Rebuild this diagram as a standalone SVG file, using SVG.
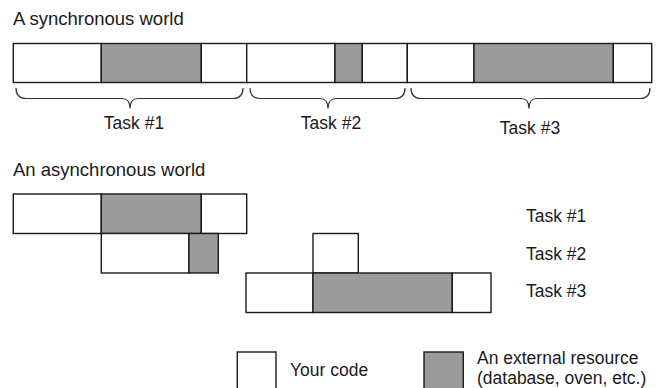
<svg xmlns="http://www.w3.org/2000/svg" width="659" height="388" viewBox="0 0 659 388">
<style>
.c{fill:#ffffff;stroke:#1a1a1a;stroke-width:1.4}
.r{fill:#9b9b9b;stroke:#1a1a1a;stroke-width:1.4}
.b{fill:none;stroke:#333333;stroke-width:1.2}
text{font-family:"Liberation Sans",Arial,sans-serif;fill:#1a1a1a}
.t{font-size:18.5px}
.l{font-size:17.5px}
.m{text-anchor:middle}
</style>
<rect width="659" height="388" fill="#ffffff"/>
<text class="t" x="13" y="25">A synchronous world</text>
<g id="sync-task1">
<rect class="c" x="13.3" y="43.5" width="88" height="39"/>
<rect class="r" x="101.3" y="43.5" width="100" height="39"/>
<rect class="c" x="201.3" y="43.5" width="45.4" height="39"/>
</g>
<g id="sync-task2">
<rect class="c" x="246.7" y="43.5" width="88.3" height="39"/>
<rect class="r" x="335" y="43.5" width="27.3" height="39"/>
<rect class="c" x="362.3" y="43.5" width="45" height="39"/>
</g>
<g id="sync-task3">
<rect class="c" x="407.3" y="43.5" width="66.7" height="39"/>
<rect class="r" x="474" y="43.5" width="139.3" height="39"/>
<rect class="c" x="613.3" y="43.5" width="38.4" height="39"/>
</g>
<g id="braces">
<path class="b" d="M16,88 q0,10.5 10,10.5 H122 q8,0 8,10 q0,-10 8,-10 H233 q10,0 10,-10.5"/>
<path class="b" d="M250,88 q0,10.5 10,10.5 H320 q8,0 8,10 q0,-10 8,-10 H395 q10,0 10,-10.5"/>
<path class="b" d="M411,88 q0,10.5 10,10.5 H521 q8,0 8,10 q0,-10 8,-10 H640 q10,0 10,-10.5"/>
</g>
<text class="l m" x="134" y="129">Task #1</text>
<text class="l m" x="331" y="129">Task #2</text>
<text class="l m" x="530" y="134">Task #3</text>
<text class="t" x="13" y="176">An asynchronous world</text>
<g id="async-task1">
<rect class="c" x="13.3" y="194" width="88" height="39.5"/>
<rect class="r" x="101.3" y="194" width="100" height="39.5"/>
<rect class="c" x="201.3" y="194" width="45.4" height="39.5"/>
</g>
<g id="async-task2">
<rect class="c" x="101.3" y="233.5" width="87.7" height="39.5"/>
<rect class="r" x="189" y="233.5" width="29.3" height="39.5"/>
<rect class="c" x="313" y="233.5" width="45.3" height="39.5"/>
</g>
<g id="async-task3">
<rect class="c" x="246" y="273" width="67" height="39.5"/>
<rect class="r" x="313" y="273" width="139.3" height="39.5"/>
<rect class="c" x="452.3" y="273" width="38.7" height="39.5"/>
</g>
<text class="l" x="526" y="222">Task #1</text>
<text class="l" x="526" y="260">Task #2</text>
<text class="l" x="526" y="297">Task #3</text>
<g id="legend-code">
<rect class="c" x="237.3" y="352" width="38.7" height="40"/>
<text class="l" x="290" y="376">Your code</text>
</g>
<g id="legend-resource">
<rect class="r" x="424" y="352" width="39.3" height="40"/>
<text class="l" x="477" y="364">An external resource</text>
<text class="l" x="477" y="383.5">(database, oven, etc.)</text>
</g>
</svg>
